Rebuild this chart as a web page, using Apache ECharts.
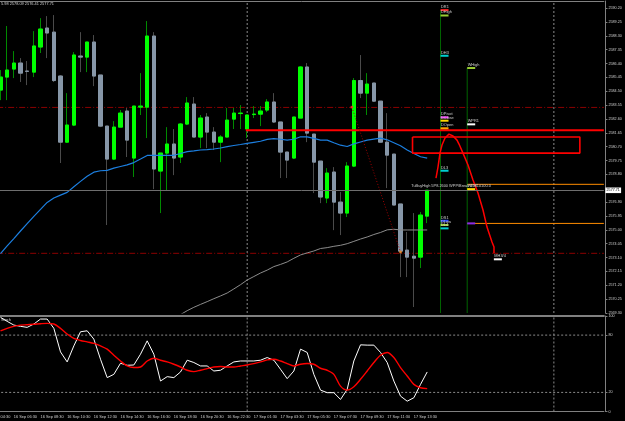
<!DOCTYPE html>
<html><head><meta charset="utf-8">
<script src="https://cdn.jsdelivr.net/npm/echarts@6/dist/echarts.min.js"></script>
<style>html,body{margin:0;padding:0;background:#000;}#c{width:625px;height:421px;}</style>
</head><body><div id="c"></div>
<script>
// ---------------- DATA ----------------
const open = [2584.58,2585.47,2586.02,2586.43,2585.88,2585.81,2587.53,2588.83,2588.55,2585.54,
2581.01,2582.18,2586.91,2586.84,2587.87,2585.61,2582.11,2579.85,2582.04,2583.14,
2579.92,2583.41,2583.41,2588.28,2579.03,2580.26,2580.88,2579.99,2582.25,2583.62,
2581.36,2582.73,2581.70,2581.01,2581.36,2582.59,2582.97,2581.91,2582.90,2582.93,
2583.21,2583.76,2582.39,2580.33,2579.92,2582.66,2586.16,2581.56,2579.71,2577.18,
2578.96,2576.90,2576.15,2579.37,2585.23,2584.37,2585.06,2583.82,2581.01,2580.19,
2576.77,2573.61,2573.19,2573.13,2575.94];
const close = [2585.47,2585.95,2586.43,2585.74,2585.86,2587.60,2588.76,2588.49,2585.23,2581.01,
2582.18,2586.98,2586.84,2587.87,2585.54,2582.11,2579.85,2582.04,2583.00,2581.15,
2583.48,2583.48,2588.28,2579.17,2580.26,2580.88,2579.92,2582.25,2583.69,2581.36,
2582.66,2581.70,2581.01,2581.36,2582.52,2583.00,2583.00,2582.87,2582.93,2583.14,
2583.76,2582.39,2580.33,2579.78,2582.73,2586.16,2581.63,2579.64,2577.25,2578.89,
2576.90,2576.15,2579.37,2585.23,2584.37,2584.99,2583.82,2581.01,2580.12,2576.70,
2573.54,2573.13,2573.06,2576.01,2577.71];
const high = [2585.95,2588.97,2587.25,2586.77,2586.57,2588.62,2589.51,2589.65,2589.72,2585.61,
2584.37,2587.18,2588.55,2587.87,2588.35,2585.61,2582.11,2582.45,2583.21,2583.35,
2583.48,2585.74,2589.31,2588.55,2580.26,2582.04,2581.91,2582.32,2584.10,2584.10,
2582.87,2583.00,2582.04,2581.49,2583.35,2583.35,2583.55,2582.87,2583.48,2583.48,
2583.96,2584.37,2582.39,2580.33,2582.73,2586.22,2586.43,2581.56,2579.71,2579.23,
2579.30,2577.59,2579.64,2585.40,2586.98,2585.74,2585.06,2583.82,2583.00,2580.19,
2576.77,2574.85,2576.15,2576.22,2577.73];
const low = [2583.89,2583.89,2585.40,2585.13,2584.92,2585.47,2587.12,2586.77,2585.13,2579.58,
2580.95,2582.11,2585.81,2585.81,2584.85,2582.04,2575.33,2579.78,2582.04,2579.99,
2578.62,2582.87,2581.29,2577.79,2576.15,2577.73,2578.75,2579.58,2582.18,2581.36,
2580.60,2580.60,2580.47,2579.64,2581.36,2581.91,2581.91,2581.29,2582.66,2582.11,
2583.07,2582.32,2578.55,2578.55,2579.85,2582.66,2581.01,2577.52,2576.83,2576.83,
2574.98,2574.64,2575.88,2579.30,2584.03,2582.87,2583.76,2580.95,2577.86,2576.70,
2571.76,2571.76,2569.71,2572.38,2575.46];
const maFast = [2573.37,2573.90,2574.40,2574.92,2575.43,2575.92,2576.40,2576.88,2577.18,2577.38,
2577.57,2577.95,2578.32,2578.67,2578.95,2579.05,2579.08,2579.23,2579.34,2579.45,
2579.61,2579.85,2580.10,2580.10,2580.10,2580.10,2580.11,2580.23,2580.36,2580.41,
2580.47,2580.50,2580.54,2580.61,2580.70,2580.78,2580.85,2580.93,2581.00,2581.07,
2581.20,2581.25,2581.21,2581.15,2581.21,2581.38,2581.37,2581.27,2581.15,2581.15,
2580.97,2580.80,2580.71,2580.89,2581.02,2581.15,2581.22,2581.28,2581.17,2580.97,
2580.76,2580.47,2580.23,2580.01,2579.92];
const maSlowStart = 26;
const maSlow = [2568.95,2569.19,2569.46,2569.69,2569.89,2570.08,2570.28,2570.47,2570.67,2570.95,
2571.24,2571.56,2571.80,2572.04,2572.24,2572.48,2572.63,2572.80,2573.05,2573.28,
2573.42,2573.55,2573.72,2573.78,2573.87,2573.94,2574.05,2574.21,2574.37,2574.51,
2574.68,2574.82,2575.00,2575.04,2574.99,2574.99,2574.99,2574.99,2574.99];
const stochMain = [98.6,94.4,90.5,89.2,88.1,91.6,96.8,96.8,87.1,62.4,
51.9,68.7,83.5,84.5,75.8,54.7,35.5,38.9,50.5,48.4,
48.7,60.0,74.0,60.0,31.9,36.5,35.5,41.4,53.7,51.3,
47.7,47.7,42.4,43.2,47.7,51.9,52.9,52.9,52.9,53.7,
56.5,53.7,44.2,34.4,42.4,65.3,61.8,38.9,22.4,19.7,
19.7,12.6,23.2,52.9,69.8,69.5,69.5,61.8,51.3,31.9,
16.1,10.8,14.4,28.4,41.4];
const stochSignal = [84.5,87.1,89.2,90.5,90.8,91.3,91.9,92.3,91.6,87.1,
81.1,76.5,74.4,72.9,71.3,68.7,65.3,58.9,52.9,47.7,
46.0,46.6,52.9,55.8,53.7,51.9,49.5,46.6,43.2,41.8,
43.2,44.9,46.6,47.1,46.6,46.6,47.7,48.7,50.2,51.9,
54.0,54.7,52.9,50.2,47.7,49.5,50.2,49.5,45.3,43.2,
38.9,26.6,22.4,26.0,33.7,42.4,51.3,58.9,61.8,56.5,
46.0,37.2,28.4,24.9,23.9];
const stochLevels = [20, 80];
const stochLabels = [0, 20, 80, 100];

const tickLabels = ["16 Sep 06:30","16 Sep 08:30","16 Sep 10:30","16 Sep 12:30","16 Sep 14:30",
"16 Sep 16:30","16 Sep 18:30","16 Sep 20:30","16 Sep 22:30","17 Sep 01:30","17 Sep 03:30",
"17 Sep 05:30","17 Sep 07:30","17 Sep 09:30","17 Sep 11:30","17 Sep 13:30"];
const cutLabel = "16 Sep 04:30";
const cutLabelBar = -2;
const headerText = "5.98 2578.09 2576.41 2577.71";
const stochName = "Stoch";

const priceMin = 2569.30, priceMax = 2590.684, priceStep = 0.95;
const totalSlots = 91;
const daySeparators = [37, 83];
const dashDotLevels = [2583.39, 2573.39];
const redLevel = 2581.82, redLevelStart = 36.8;
const zone = {left: 61.8, right: 86.9, top: 2581.36, bottom: 2580.26};
const forecastBars = [65.32,65.62,65.92,66.22,66.67,67.27,67.87,68.47,68.77,69.37,70.12,70.87,71.62,72.37,72.97,73.72,74.02,74.02];
const forecastPrices = [2578.55,2579.30,2580.26,2580.81,2581.29,2581.56,2581.43,2581.15,2580.88,2580.26,2579.44,2578.41,2577.52,2576.36,2575.19,2574.16,2573.82,2573.41];
const trendBars = [52.7, 60.0];
const trendPrices = [2583.41, 2573.48];
const orangeLevels = [2578.12, 2575.44];
const weeklyBar = 70, dailyBar = 66, monthlyBar = 74;
const dailyNames = ['DR1','DHigh','DH3','DPivot','DClose','DOpen','DL3','DS1','DLow','DL4'];
const dailyPrices = [2590.06,2589.69,2586.93,2582.71,2582.48,2581.96,2579.05,2575.62,2575.33,2575.10];
const weeklyNames = ['WHigh','WPR1','WPP',''];
const weeklyPrices = [2586.09,2582.23,2577.79,2575.44];
const monthlyNames = ['MH3/4'];
const monthlyPrices = [2572.98];
const noteBar = 61.6, notePrice = 2578.02;
const noteText = "TuBuyHigh 5P8.2600 WPP/Break 52610100.0";

// ---------------- STYLES ----------------
const FONT = '"Liberation Sans", Arial, sans-serif';
const TXT = '#cfcfcf';
const markerColor = {DR1:'#ff2020',DHigh:'#9acd32',DH3:'#00ced1',DPivot:'#ff40ff',DClose:'#ffd700',
  DOpen:'#ffa500',DL3:'#00ced1',DS1:'#2a48ff',DLow:'#9acd32',DL4:'#00ced1',WHigh:'#9acd32',
  WPR1:'#ffffff',WPP:'#ffd700','':'#8a2be2','MH3/4':'#ffffff'};

// ---------------- BUILD ----------------
const times = [];
(function(){ let d=16,h=4,m=30;
  for (let k=0;k<totalSlots+2;k++){
    times.push(d+' Sep '+String(h).padStart(2,'0')+':'+String(m).padStart(2,'0'));
    m+=30; if(m===60){m=0;h++;} if(h===24){d++;h=1;m=0;}
  }})();
const cats = times.slice(2, 2+totalSlots);

const markers = [];
dailyNames.forEach((n,k)=>markers.push({name:n, price:dailyPrices[k], bar:dailyBar}));
weeklyNames.forEach((n,k)=>markers.push({name:n, price:weeklyPrices[k], bar:weeklyBar}));
monthlyNames.forEach((n,k)=>markers.push({name:n, price:monthlyPrices[k], bar:monthlyBar}));

const xEnd = totalSlots - 0.5, xStart = -0.5;
function line(xi, yi, data, color, width, type, extra){
  return Object.assign({type:'line', xAxisIndex:xi, yAxisIndex:yi, data:data, symbol:'none', silent:true,
    lineStyle:{color:color, width:width, type:type||'solid'}, z:3, animation:false}, extra||{});
}

const series = [];
// level lines (behind candles)
dashDotLevels.forEach(p=>series.push(line(1,0,[[xStart,p],[xEnd,p]],'#8b0000',1,[6,2,1,2],{z:1})));
daySeparators.forEach(b=>{
  series.push(line(1,0,[[b,priceMin],[b,priceMax]],'#8a8a8a',1,[2,2],{z:1}));
  series.push(line(3,1,[[b,0],[b,100]],'#8a8a8a',1,[2,2],{z:1}));
});
orangeLevels.forEach(p=>series.push(line(1,0,[[weeklyBar,p],[xEnd,p]],'#ff8c00',1,'solid',{z:1})));
series.push(line(1,0,[[dailyBar,dailyPrices[0]],[dailyBar,priceMin]],'#006400',1,'solid',{z:1}));
series.push(line(1,0,[[weeklyBar,weeklyPrices[0]],[weeklyBar,priceMin]],'#006400',1,'solid',{z:1}));

const lastClose = close[close.length-1];
// candles: wicks
series.push({type:'candlestick', xAxisIndex:0, yAxisIndex:0, barWidth:3.8, silent:true, z:2, animation:false,
  data: open.map((o,i)=>[o, close[i], low[i], high[i]]),
  itemStyle:{color:'#000', color0:'#000', borderColor:'#008a00', borderColor0:'#4a4a4a', borderWidth:1}
});
// candles: bodies
series.push({type:'candlestick', xAxisIndex:0, yAxisIndex:0, barWidth:3.8, silent:true, z:2, animation:false,
  data: open.map((o,i)=>[o, close[i], Math.min(o,close[i]), Math.max(o,close[i])]),
  itemStyle:{color:'#00ff00', color0:'#8797a8', borderColor:'#00ff00', borderColor0:'#8797a8', borderWidth:1},
  markLine:{symbol:'none', silent:true, animation:false, data:[{yAxis:lastClose}],
    lineStyle:{color:'#6e6e6e', width:1, type:'solid'},
    label:{show:true, position:'end', distance:1.5, formatter:lastClose.toFixed(2), backgroundColor:'#ffffff',
      color:'#000', fontSize:3.7, fontFamily:FONT, padding:[1,1.2,0.6,1.2]}}
});
// moving averages
series.push(line(0,0,maFast,'#1c7fe0',1.2,'solid',{z:3}));
series.push(line(0,0,cats.map((c,i)=> i>=maSlowStart && i-maSlowStart<maSlow.length ? maSlow[i-maSlowStart] : null),'#8c8c8c',1,'solid',{z:3}));
// objects
series.push(line(1,0,[[redLevelStart,redLevel],[xEnd,redLevel]],'#ff0000',2,'solid',{z:4}));
series.push(line(1,0,[[zone.left,zone.top],[zone.right,zone.top],[zone.right,zone.bottom],[zone.left,zone.bottom],[zone.left,zone.top]],'#ff0000',1.6,'solid',{z:4}));
series.push(line(1,0,forecastBars.map((b,k)=>[b,forecastPrices[k]]),'#ff0000',1.5,'solid',{z:4}));
series.push(line(1,0,trendBars.map((b,k)=>[b,trendPrices[k]]),'#a00000',1,[1,2],{z:4}));
series.push({type:'scatter', xAxisIndex:1, yAxisIndex:0, silent:true, z:5, animation:false, symbol:'rect', symbolSize:2.5,
  data:[{value:[trendBars[0],trendPrices[0]], itemStyle:{color:'#ff3030'}},{value:[trendBars[1],trendPrices[1]], itemStyle:{color:'#ff9020'}}]});
// pivot markers
series.push({type:'custom', xAxisIndex:1, yAxisIndex:0, silent:true, z:6, clip:false, animation:false,
  data: markers.map((m,k)=>[m.bar, m.price, k]),
  renderItem: function(params, api){
    const m = markers[api.value(2)];
    const p = api.coord([api.value(0), api.value(1)]);
    const ch = [{type:'rect', shape:{x:p[0], y:p[1]-1, width:8, height:2}, style:{fill:markerColor[m.name]}}];
    if (m.name) ch.push({type:'text', x:p[0]+0.5, y:p[1]-1.2, style:{text:m.name, fill:TXT, fontSize:3.9, fontFamily:FONT, align:'left', verticalAlign:'bottom'}});
    return {type:'group', children:ch};
  }
});
series.push({type:'custom', xAxisIndex:1, yAxisIndex:0, silent:true, z:6, clip:false, animation:false,
  data:[[noteBar, notePrice]],
  renderItem: function(params, api){
    const p = api.coord([api.value(0), api.value(1)]);
    return {type:'text', x:p[0], y:p[1], style:{text:noteText, fill:TXT, fontSize:3.9, fontFamily:FONT, align:'left', verticalAlign:'middle'}};
  }
});
// stochastic pane
stochLevels.forEach(v=>series.push(line(3,1,[[xStart,v],[xEnd,v]],'#8a8a8a',1,[2,2],{z:1})));
series.push(line(2,1,stochMain,'#ffffff',1,'solid',{z:3}));
series.push(line(2,1,stochSignal,'#ff0000',1.4,'solid',{z:4, smooth:0.3}));

const option = {
  backgroundColor:'#000',
  animation:false,
  textStyle:{fontFamily:FONT},
  grid:[
    {left:-2.833, top:1, width:606.7, height:312, containLabel:false, outerBoundsMode:'none'},
    {left:-2.833, top:316, width:606.7, height:95.5, containLabel:false, outerBoundsMode:'none'}
  ],
  xAxis:[
    {type:'category', gridIndex:0, data:cats, boundaryGap:true, position:'top',
      axisLine:{show:true, onZero:false, lineStyle:{color:'#808080', width:1}}, axisTick:{show:false}, axisLabel:{show:false}, splitLine:{show:false}},
    {type:'value', gridIndex:0, min:xStart, max:xEnd, show:false, splitLine:{show:false}},
    {type:'category', gridIndex:1, data:cats, boundaryGap:true, position:'bottom',
      axisLine:{show:true, onZero:false, lineStyle:{color:'#808080', width:1}}, axisTick:{show:false}, splitLine:{show:false},
      axisLabel:{show:true, interval:0, align:'left', margin:3, fontSize:3.9, color:TXT, fontFamily:FONT,
        formatter:function(v){ return tickLabels.indexOf(v)>=0 ? v : ''; }}},
    {type:'value', gridIndex:1, min:xStart, max:xEnd, position:'top',
      axisLine:{show:true, onZero:false, lineStyle:{color:'#808080', width:2}}, axisTick:{show:false}, axisLabel:{show:false}, splitLine:{show:false}}
  ],
  yAxis:[
    {type:'value', gridIndex:0, position:'right', offset:1.6, min:priceMin, max:priceMax, interval:priceStep,
      axisLine:{show:true, onZero:false, lineStyle:{color:'#808080'}}, axisTick:{show:true, length:2, lineStyle:{color:'#808080'}},
      splitLine:{show:false},
      axisLabel:{show:true, margin:3, fontSize:3.7, color:TXT, fontFamily:FONT, showMaxLabel:false, showMinLabel:true,
        formatter:function(v){ return Math.abs(v-2577.85)<0.005 ? '' : v.toFixed(2); }}},
    {type:'value', gridIndex:1, position:'right', offset:1.6, min:0, max:100, interval:20,
      axisLine:{show:true, onZero:false, lineStyle:{color:'#808080'}},
      axisTick:{show:true, length:2, lineStyle:{color:'#808080'}, customValues:stochLabels},
      splitLine:{show:false},
      axisLabel:{show:true, margin:3, fontSize:3.7, color:TXT, fontFamily:FONT, customValues:stochLabels,
        formatter:function(v){ return stochLabels.indexOf(v)>=0 ? String(v) : ''; }}}
  ],
  series:series
};

const chart = echarts.init(document.getElementById('c'), null, {renderer:'canvas', width:625, height:421});
chart.setOption(option);
const cutX = chart.convertToPixel({xAxisIndex:3}, cutLabelBar);
chart.setOption({graphic:[
  {type:'text', left:1, top:1.5, silent:true, style:{text:headerText, fill:TXT, fontSize:3.9, fontFamily:FONT}},
  {type:'text', left:1, top:317.5, silent:true, style:{text:stochName, fill:TXT, fontSize:3.9, fontFamily:FONT}},
  {type:'text', x:cutX, y:414.5, silent:true, style:{text:cutLabel, fill:TXT, fontSize:3.9, fontFamily:FONT, align:'left', verticalAlign:'top'}}
]});
</script></body></html>
